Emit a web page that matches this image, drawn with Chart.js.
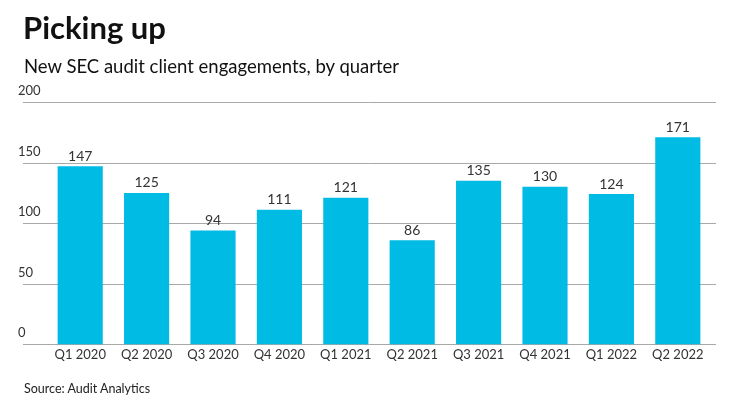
<!DOCTYPE html>
<html>
<head>
<meta charset="utf-8">
<script src="https://cdn.jsdelivr.net/npm/chart.js@4.4.0/dist/chart.umd.min.js"></script>
<style>
  html, body { margin: 0; padding: 0; background: #fff; }
  #wrap { position: relative; width: 740px; height: 416px; font-family: Lato, sans-serif; color: #111; }
  #title { position: absolute; left: 23px; top: 8px; font-size: 31px; font-weight: 700; }
  #subtitle { position: absolute; left: 24px; top: 55px; font-size: 18.5px; }
  #source { position: absolute; left: 24px; top: 381px; font-size: 12.5px; color: #222; }
  canvas { position: absolute; left: 0; top: 0; }
</style>
</head>
<body>
<div id="wrap">
  <canvas id="myChart" width="740" height="416"></canvas>
  <div id="title">Picking up</div>
  <div id="subtitle">New SEC audit client engagements, by quarter</div>
  <div id="source">Source: Audit Analytics</div>
</div>
<script>
const quarters = ['Q1 2020', 'Q2 2020', 'Q3 2020', 'Q4 2020', 'Q1 2021', 'Q2 2021', 'Q3 2021', 'Q4 2021', 'Q1 2022', 'Q2 2022'];
const engagements = [147, 125, 94, 111, 121, 86, 135, 130, 124, 171];
const yTicks = [0, 50, 100, 150, 200];

// grid lines and y labels sit above the lines, drawn from the y scale
const gridPlugin = {
    id: 'grid',
    beforeDatasetsDraw(chart) {
        const ctx = chart.ctx;
        const y = chart.scales.y;
        ctx.save();
        ctx.strokeStyle = '#a8a8a8';
        ctx.lineWidth = 1;
        ctx.font = '13px Lato';
        ctx.fillStyle = '#333';
        ctx.textAlign = 'left';
        ctx.textBaseline = 'middle';
        yTicks.forEach(v => {
            const py = Math.round(y.getPixelForValue(v)) + 0.5;
            ctx.beginPath();
            ctx.moveTo(23, py);
            ctx.lineTo(716, py);
            ctx.stroke();
            ctx.fillText(String(v), 18, py - 12);
        });
        ctx.restore();
    }
};

// value labels above each bar
const labelPlugin = {
    id: 'valueLabels',
    afterDatasetsDraw(chart) {
        const ctx = chart.ctx;
        const meta = chart.getDatasetMeta(0);
        ctx.save();
        ctx.font = '14px Lato';
        ctx.fillStyle = '#333';
        ctx.textAlign = 'center';
        ctx.textBaseline = 'bottom';
        meta.data.forEach((bar, i) => {
            ctx.fillText(String(engagements[i]), bar.x, bar.y - 3);
        });
        ctx.restore();
    }
};

const ctx = document.getElementById('myChart').getContext('2d');
const chart = new Chart(ctx, {
    type: 'bar',
    data: {
        labels: quarters,
        datasets: [{
            data: engagements,
            backgroundColor: '#00bce4',
            categoryPercentage: 1,
            barPercentage: 0.68,
        }]
    },
    options: {
        responsive: false,
        animation: false,
        layout: { padding: { left: 47, right: 29, top: 102, bottom: 50 } },
        plugins: {
            legend: { display: false },
            tooltip: { enabled: false },
        },
        scales: {
            x: {
                grid: { display: false, drawTicks: false },
                border: { display: false },
                ticks: { color: '#333', font: { family: 'Lato', size: 13 }, padding: 3, maxRotation: 0 },
            },
            y: {
                display: false,
                min: 0,
                max: 200,
            }
        }
    },
    plugins: [gridPlugin, labelPlugin]
});
</script>
</body>
</html>
